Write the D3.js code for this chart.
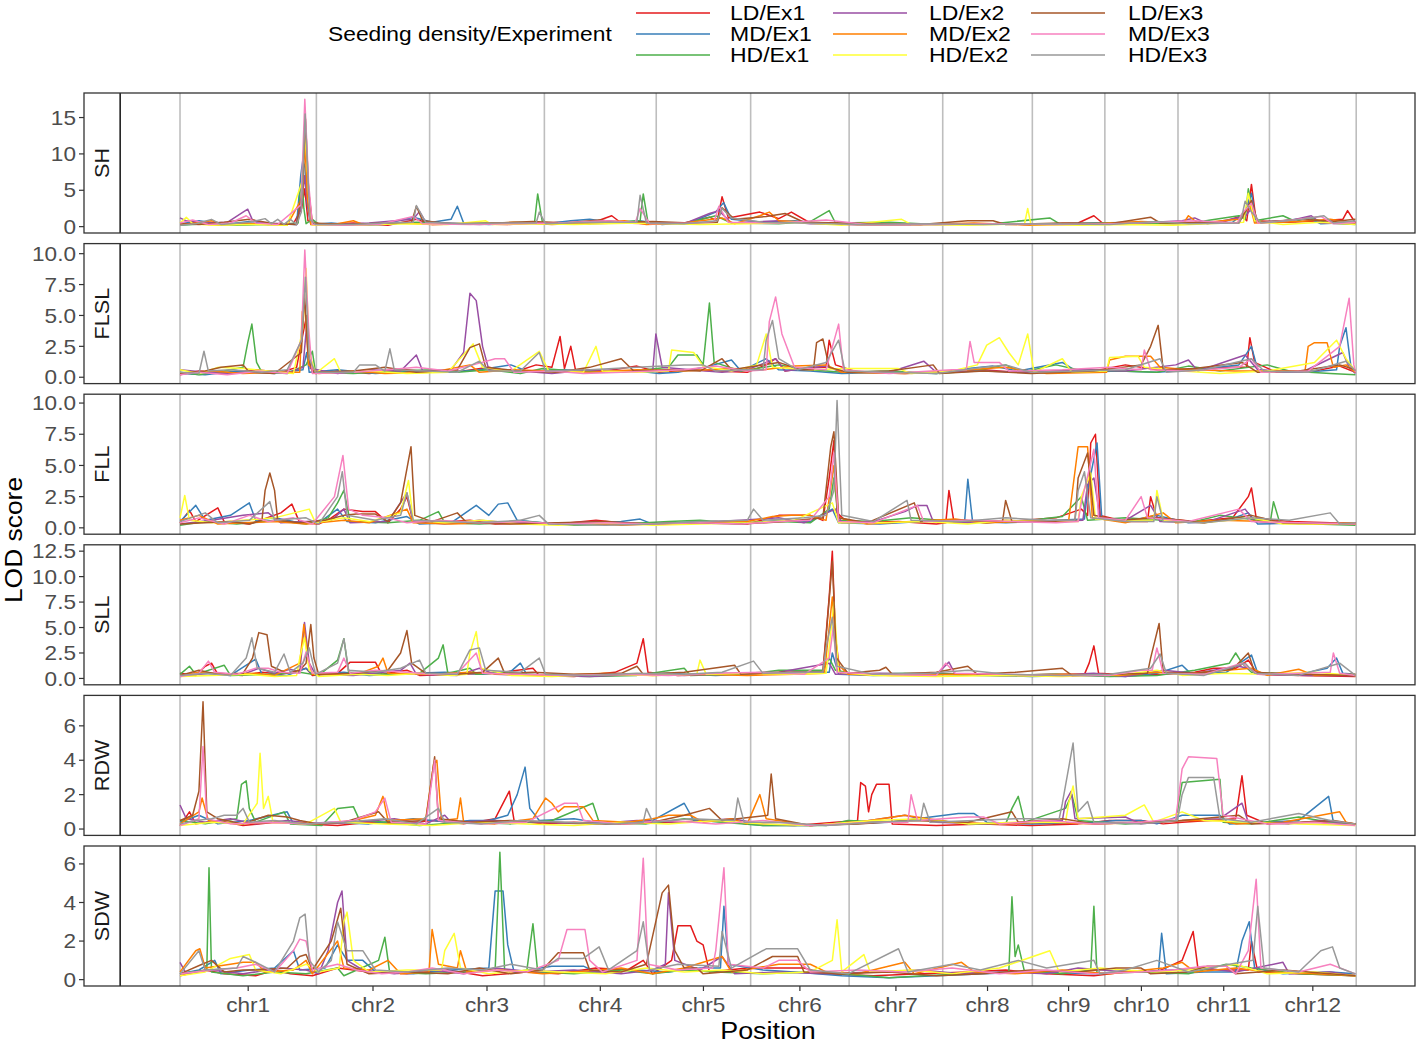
<!DOCTYPE html>
<html>
<head>
<meta charset="utf-8">
<script src="https://cdn.jsdelivr.net/npm/d3@7"></script>
<style>
  body { margin: 0; background: #fff; }
  svg { font-family: "Liberation Sans", Arial, sans-serif; }
</style>
</head>
<body>
<div id="chart"></div>
<script>
// chromosome layout (Mb)
const chrNames = ['chr1','chr2','chr3','chr4','chr5','chr6','chr7','chr8','chr9','chr10','chr11','chr12'];
const chrLengths = [43.27, 35.94, 36.41, 35.50, 29.96, 31.25, 29.70, 28.44, 23.01, 23.21, 29.02, 27.53];

const traits = ['SH', 'FLSL', 'FLL', 'SLL', 'RDW', 'SDW'];
const seriesNames = ['LD/Ex1','MD/Ex1','HD/Ex1','LD/Ex2','MD/Ex2','HD/Ex2','LD/Ex3','MD/Ex3','HD/Ex3'];
const seriesColors = ['#E41A1C','#377EB8','#4DAF4A','#984EA3','#FF7F00','#FFFF33','#A65628','#F781BF','#999999'];

const yTickValues = [[0,5,10,15],[0,2.5,5,7.5,10],[0,2.5,5,7.5,10],[0,2.5,5,7.5,10,12.5],[0,2,4,6],[0,2,4,6]];
const yTickLabels = [['0','5','10','15'],['0.0','2.5','5.0','7.5','10.0'],['0.0','2.5','5.0','7.5','10.0'],
                     ['0.0','2.5','5.0','7.5','10.0','12.5'],['0','2','4','6'],['0','2','4','6']];

// LOD traces: flat [position Mb, LOD, position, LOD, ...], one per series in seriesNames order
const lodSH = [
  [0,.3, 5,.6, 12,.2, 20,.5, 28,.3, 36,.4, 38.6,2.5, 39.6,5.2, 40.6,.8, 45,.3, 55,.5, 66,.2, 75,1.0, 80,.3, 92,.4, 104,.3, 114,.5, 122,.6, 130,.4, 137,1.5, 140,.5, 150,.4, 160,.5, 168,1.3, 170.5,.8, 172,4.1, 174,1.2, 184,2.0, 190,1.1, 194,2.0, 200,.5, 212,.3, 230,.3, 250,.4, 268,.3, 285,.5, 290,1.5, 293,.4, 305,.5, 318,.4, 330,.5, 337,1.5, 338.5,.8, 340,5.8, 341.5,.8, 352,.6, 362,.8, 369,1.0, 370.5,2.2, 373,.5],
  [0,.4, 6,.8, 14,.3, 22,.7, 30,.4, 37,.3, 38.3,7, 39,9.2, 39.6,8.2, 40.4,3, 41.5,.3, 48,.5, 56,.2, 65,.4, 74,1.3, 80,.6, 86,1.0, 88,2.8, 90,.5, 98,.3, 108,.5, 116,.4, 124,.8, 130,1.0, 138,.5, 146,.8, 153,.3, 162,.6, 170,2.0, 172.5,3.3, 175,1.0, 185,.6, 195,.8, 205,.4, 220,.3, 238,.3, 255,.4, 272,.3, 290,.5, 305,.6, 320,.4, 334,.6, 338,2.0, 340,4.6, 341.5,.6, 350,.8, 358,1.2, 362,.4, 373,.6],
  [0,.2, 8,.4, 18,.2, 30,.3, 37.5,.5, 38.2,5.5, 38.8,6.3, 39.3,2.5, 40,.4, 42,1.0, 44,.3, 60,.2, 75,.6, 90,.4, 100,.5, 112.5,.6, 113.5,4.5, 115,.6, 125,.4, 135,.6, 146,.8, 147,4.5, 148.5,.6, 160,.4, 170,1.5, 175,.5, 190,.4, 200,.7, 206,2.2, 208,.5, 225,.6, 240,.3, 258,.4, 276,1.2, 279,.4, 300,.5, 320,.4, 327,.9, 336,1.5, 338,1.0, 339,5.2, 341,.8, 350,1.5, 354,.7, 358,1.3, 364,.5, 373,.3],
  [0,1.2, 2,.8, 8,.5, 15,.6, 20,2.0, 21.5,2.4, 23,.9, 27,.5, 33,.4, 37,.3, 38.6,3.2, 39.5,7.0, 40.3,3.5, 41.5,.4, 50,.3, 60,.5, 74,1.0, 76,2.1, 78,.6, 95,.3, 110,.5, 130,.4, 148,.6, 160,.4, 168,1.8, 171,2.2, 175,.5, 190,.8, 200,.4, 215,.3, 240,.3, 265,.4, 285,.3, 300,.4, 318,.8, 322,1.2, 326,.4, 338,1.4, 340,2.5, 342,.6, 352,.8, 359,1.5, 362,.5, 373,.4],
  [0,.3, 5,.5, 10,.8, 14,.3, 24,.4, 34,.2, 38.8,4, 39.6,12, 40.4,4, 41.5,.3, 50,.4, 55,.8, 58,.3, 70,.5, 80,.3, 96,.4, 106,.6, 118,.3, 128,.5, 141,.8, 148,.3, 160,.5, 172,1.2, 176,.4, 184,1.5, 187,2.0, 190,.8, 200,.6, 215,.3, 235,.3, 252,.5, 270,.2, 290,.4, 305,.7, 318.5,.5, 320,1.5, 323,.5, 336,1.0, 339.5,3.0, 341,.5, 355,.7, 365,1.0, 373,.5],
  [0,.5, 2,1.3, 4,.4, 10,.2, 22,.3, 34,.2, 38.6,6, 39.7,13, 40.8,5, 42,.2, 55,.2, 70,.4, 85,.3, 97,.8, 99,.3, 114,.4, 125,.3, 145,.5, 165,.3, 180,.4, 195,.6, 210,.2, 229,1.0, 232,.3, 250,.2, 268,.4, 269,2.5, 270,.3, 285,.2, 300,.3, 315,.2, 337.5,.6, 339,4.6, 341,.8, 350,.3, 362,.6, 373,.3],
  [0,.4, 6,.3, 14,.6, 22,1.0, 30,.4, 37,.3, 38.8,5, 39.8,14.8, 40.8,5, 42,.5, 52,.3, 66,.5, 73.5,.6, 75,2.8, 77,.8, 86,.4, 100,.5, 112,.7, 122,.5, 133,.9, 140,.6, 150,.7, 162,.5, 170.5,.6, 172,2.6, 176,1.0, 186,1.4, 192,1.8, 198,.6, 210,.5, 222,.4, 235,.3, 250,.8, 258,.8, 262,.3, 280,.5, 295,.4, 308,1.3, 311,.5, 325,.6, 336,.5, 338,2.0, 340,3.6, 342,.6, 356,1.0, 366,.7, 373,1.0],
  [0,.5, 4,.9, 9,.3, 16,.5, 21,1.5, 24,.5, 31,.3, 38.4,3, 39.6,17.5, 40.8,6, 42,.3, 52,.2, 63,.3, 74,1.4, 77,.4, 92,.3, 105,.4, 120,.5, 135,.8, 144.5,.6, 146,2.5, 149,.4, 162,.5, 169.5,.7, 171,2.8, 174,.6, 190,.5, 205,.9, 218,.3, 240,.3, 260,.4, 278,.3, 296,.4, 310,.6, 322,.8, 335.5,.5, 337,1.8, 340,3.2, 342,.5, 353,.9, 362,1.4, 366,.4, 373,.6],
  [0,.2, 5,.4, 10,1.0, 13,.3, 22,.6, 27,1.1, 29,.4, 31,1.0, 33,.3, 35,1.0, 37,.3, 38.5,2, 39.7,15.5, 40.5,8, 41.2,1, 43,.3, 55,.3, 65,.5, 74,.6, 75,2.9, 78,.6, 90,.4, 102,.5, 113,.5, 114,2.0, 116,.4, 130,.6, 145,.6, 146,4.3, 148,.5, 160,.4, 170.5,.8, 172,2.5, 175,1.2, 185,.6, 198,.5, 215,.3, 236,.4, 255,.3, 275,.4, 295,.3, 310,.7, 320,.4, 336,.5, 337,1.5, 338,3.5, 340,2.0, 343,.5, 356,1.0, 363,1.5, 366,.5, 373,.8]
];

const lodFLSL = [
  [0,.2, 6,.5, 14,.3, 24,.6, 32,.4, 37,.8, 39,3.5, 40.2,5.0, 41,1.0, 43,.3, 50,.5, 60,.3, 72,.6, 80,.4, 90,.5, 98,.8, 106,.4, 113,1.0, 118,.8, 120.6,3.3, 122,.7, 124,2.5, 125.5,.6, 135,.5, 145,.9, 152,.4, 162,.6, 170,.5, 180,.4, 186,1.0, 189,1.5, 192,.5, 200,.8, 205,.8, 206,3.0, 208,1.0, 215,.4, 230,.3, 245,.4, 255,.6, 265,.4, 280,.5, 292,.6, 300,1.0, 310,.6, 320,.5, 332,.8, 338.5,.8, 339.5,3.2, 341,1.2, 348,.4, 360,.5, 368,.9, 373,.4],
  [0,.3, 8,.2, 18,.5, 30,.3, 39,.6, 40.2,2.0, 41,.4, 50,.6, 62,.3, 75,.5, 85,.4, 95,.6, 105,1.0, 110,.5, 122,.6, 135,.4, 145,.5, 152,.3, 158,.4, 168,.9, 175,1.4, 178,.5, 186,1.5, 190,.6, 200,.5, 210,.3, 225,.4, 240,.3, 250,.7, 258,.9, 266,.5, 280,1.2, 285,.4, 298,.5, 310,.4, 322,.6, 336,1.0, 340,2.5, 342,.6, 350,.4, 362,.5, 367,.6, 368,2.5, 370,4.0, 371.5,1.0, 373,.4],
  [0,.4, 6,.2, 14,.5, 20,.8, 21.5,2.8, 22.8,4.3, 24.3,1.2, 26,.4, 34,.3, 40,1.0, 42,2.1, 43,.4, 55,.3, 68,.5, 80,.6, 88,.4, 98,.6, 108,.3, 115,.7, 125,.5, 140,.4, 155,.8, 158,1.8, 164,1.8, 166,1.0, 168,6.0, 169.5,1.2, 178,.5, 190,1.0, 200,.6, 210,.4, 225,.5, 240,.3, 252,.5, 262,1.0, 267,.4, 278,1.0, 285,.6, 298,.5, 310,.4, 320,.9, 330,.5, 345,1.0, 352,.5, 365,.3, 373,.2],
  [0,.6, 8,.4, 15,.3, 25,.5, 35,.4, 39,.8, 40.3,4.5, 41.3,.7, 50,.3, 60,.6, 70,.5, 75,1.8, 77,.5, 86,.6, 90,2.0, 92,6.8, 94,6.2, 96,2.5, 98,.6, 108,.5, 118,.3, 130,.6, 145,.5, 150,.5, 151,3.5, 153,.8, 162,.6, 172,.4, 180,.6, 189,1.5, 192,.5, 205,.9, 210,.4, 225,.4, 236,1.3, 240,.4, 255,.5, 270,.4, 285,.6, 300,.5, 316,1.0, 320,1.4, 323,.5, 338,1.8, 342,.6, 356,.4, 369,2.0, 371,.8, 373,.3],
  [0,.3, 10,.5, 20,.3, 30,.4, 38,.4, 38.8,5.3, 39.6,5.8, 40.8,1.0, 44,.3, 55,.5, 65,.3, 80,.4, 92,1.0, 95,.4, 105,.6, 118,.5, 130,.4, 145,.6, 160,.5, 175,.7, 185,.6, 195,.9, 205,1.0, 210,.4, 230,.3, 250,.6, 262,.8, 275,.3, 294,.4, 295,1.4, 300,1.7, 308,1.7, 311,.8, 320,.6, 335,.5, 350,.5, 357,.5, 358,2.5, 360,2.8, 364,2.8, 366,.8, 370,1.0, 373,.4],
  [0,.6, 6,.3, 12,.8, 20,.7, 28,.5, 36,.3, 39,4, 40,8.8, 41,2, 43,.3, 49,1.5, 51,.4, 60,.5, 72,.3, 85,.4, 93,2.7, 96,.8, 105,.5, 114,2.1, 117,.5, 128,.4, 132,2.5, 134,.5, 145,.4, 155,.5, 156,2.2, 163,2.0, 166,.9, 175,.5, 183,1.0, 186,3.5, 188,.8, 200,.6, 212,.7, 220,.7, 228,.7, 232,.3, 245,.5, 253,1.0, 256,2.6, 260,3.2, 263,2.0, 266,1.0, 269,3.5, 271,.4, 280,1.5, 283,.4, 294,.5, 295,1.6, 304,1.7, 306,.8, 318,.5, 330,.3, 345,.5, 360,1.2, 367,3.0, 370,1.5, 373,.5],
  [0,.3, 8,.5, 13,.8, 20,1.0, 22,.4, 30,.3, 38.5,2, 39.5,6.7, 40.6,2, 42,.4, 55,.5, 65,.8, 75,.4, 88,.6, 92,2.4, 95,2.7, 97,.8, 108,.5, 120,.4, 130,.8, 140,1.5, 144,.5, 155,.6, 165,.5, 172,1.5, 175,.6, 190,1.2, 197,.6, 201,.6, 202,2.8, 204,3.1, 206,.8, 212,.4, 225,.5, 239,1.0, 241,.3, 255,.5, 270,.3, 290,.5, 305,1.0, 308,2.5, 310.4,4.2, 312,.6, 322,.7, 337,1.2, 342,.4, 355,.5, 368,1.0, 373,.6],
  [0,.2, 6,.4, 15,.2, 25,.5, 34,.3, 38.5,3, 39.6,10.3, 40.8,4, 42,.3, 55,.4, 66,.6, 75,.8, 85,.5, 93,1.0, 100,1.5, 103,1.5, 106,.4, 118,.5, 128,.3, 140,.4, 150,.5, 160,.6, 170,.9, 180,.5, 186,.6, 187,4.5, 189,6.5, 191,3.5, 195,.8, 205,.6, 209,4.3, 210.5,.6, 225,.3, 245,.6, 249.5,.6, 250.7,2.9, 252,1.2, 260,1.2, 263,.5, 280,.6, 295,.8, 305,.6, 306,2.2, 308,.6, 320,.5, 336,.8, 340,1.5, 343,.4, 358,.5, 368,2.5, 371,6.4, 372.5,1.0, 373,.4],
  [0,.4, 6,.3, 7.6,2.1, 9,.5, 16,.6, 26,.4, 34,.6, 38.6,3, 39.8,8.1, 41,1.5, 43,.4, 55,.4, 57,1.0, 62,1.0, 65,.5, 66.6,2.3, 68,.6, 78,.5, 88,.4, 95,1.3, 98,.5, 108,.5, 114,2.0, 116,.5, 130,.6, 145,.8, 160,1.0, 166,1.0, 170,.5, 178,.6, 185,.6, 186,3, 188,4.6, 190,1.5, 196,.6, 205,1.2, 209,3.0, 211,.5, 225,.4, 240,.3, 255,.8, 262,1.0, 270,.4, 285,.5, 300,.6, 311,1.5, 313,.4, 325,.6, 340,1.5, 344,.5, 358,.4, 370,1.3, 373,.5]
];

const lodFLL = [
  [0,.4, 3,1.4, 5,.5, 12,1.6, 14,.5, 22,.3, 32,1.2, 35.5,1.9, 38,.4, 44,.3, 48,.8, 52,1.5, 58,1.3, 62,1.3, 66,.4, 70,1.5, 72,2.5, 74,.5, 80,.4, 92,.6, 100,.3, 110,.4, 120,.3, 132,.6, 140,.4, 155,.3, 170,.5, 180,.3, 190,1.0, 200,1.0, 204,.6, 206,4.0, 207.5,7.0, 208.5,1.2, 212,.4, 228,.5, 240,.3, 243,.4, 244,3.0, 245.5,.6, 256,.4, 268,.6, 278,.8, 286,1.5, 288,1.0, 289,6.8, 290.5,7.5, 292,1.0, 300,.5, 307,.5, 308,2.5, 310,.8, 322,.5, 334,.8, 339,2.5, 340,3.2, 341.5,.8, 352,.5, 365,.4, 373,.3],
  [0,.5, 5,1.8, 8,.6, 16,1.0, 22,2.0, 24,.6, 30,.8, 36,.5, 44,.4, 50,1.5, 53,.5, 62,.4, 72,.9, 76,.3, 86,.4, 94,1.8, 98,1.0, 101,1.9, 104,2.0, 107,.6, 115,.4, 128,.3, 140,.5, 146,.7, 150,.3, 165,.5, 178,.3, 190,.6, 200,.5, 207,1.5, 209,.4, 222,.3, 235,.5, 249,.6, 250,3.9, 251.5,.5, 262,.4, 278,.6, 287,.7, 288,3, 291,6.8, 292.5,.8, 300,.5, 310,1.0, 320,.4, 332,.6, 339,1.2, 342,.3, 356,.4, 366,.3, 373,.4],
  [0,.2, 8,.5, 18,.3, 30,.6, 40,.3, 47,.8, 50,2.0, 52,3.0, 54,.5, 66,.4, 76,.6, 82,1.3, 84,.4, 95,.3, 110,.5, 125,.2, 140,.3, 155,.5, 165,.6, 175,.4, 190,.5, 200,.4, 206,1.5, 207.5,4.0, 209,.6, 220,.5, 232,.8, 246,.5, 256,.4, 270,.6, 280,.9, 286,2.5, 288,.6, 300,.8, 312,.6, 322,.5, 330,1.0, 342,.6, 346,.5, 347,2.1, 349,.4, 360,.3, 373,.2],
  [0,.3, 10,.6, 20,1.0, 28,1.2, 32,.4, 40,.5, 48,.6, 52,1.5, 54,.4, 66,.5, 72,2.8, 74,.5, 84,.3, 95,.6, 105,.4, 118,.3, 132,.5, 146,.3, 162,.4, 178,.6, 190,.8, 198,.4, 208,1.5, 210,.4, 220,.5, 230,1.3, 234,1.8, 237,1.8, 239,.5, 250,.4, 262,.6, 276,.5, 286.5,.6, 288,3.5, 290,4.0, 292,.8, 300,.6, 308,1.8, 311,.5, 325,.4, 338,1.5, 341,.5, 355,.3, 373,.4],
  [0,.6, 6,1.0, 12,.3, 20,.4, 30,.5, 40,.3, 52,.6, 60,.4, 72,1.5, 74,.4, 86,.3, 98,.4, 112,.3, 125,.4, 140,.2, 150,.3, 165,.4, 180,.5, 188,.9, 194,1.0, 200,1.0, 205,.6, 207.5,5.0, 209,.8, 218,.3, 232,.5, 246,.7, 255,.4, 268,.5, 282,.6, 285,6.5, 288,6.5, 289.5,.8, 300,.4, 312,1.2, 316,.4, 330,.6, 345,.5, 360,.3, 373,.4],
  [0,.8, 1.5,2.6, 3,.6, 10,.4, 20,.6, 30,.8, 41,1.5, 43,.4, 52,.8, 60,.5, 70,1.2, 72.5,3.8, 74,.6, 84,.4, 96,.6, 108,.3, 120,.2, 136,.4, 150,.2, 165,.3, 180,.4, 195,.6, 207,2.0, 209,.4, 222,.4, 236,.5, 250,.3, 262,.6, 274,.5, 285,.5, 286,2.5, 289,4.4, 290.5,.7, 300,.6, 309,.6, 310,3.0, 312,.6, 325,.4, 340,.8, 350,.3, 373,.3],
  [0,.3, 8,.4, 16,.5, 22,.3, 26,.6, 27,3.0, 28.5,4.4, 30,3.0, 31,.6, 38,.4, 46,.6, 52,1.0, 56,1.1, 62,1.1, 66,.5, 70,2.0, 73.3,6.5, 74.5,1.0, 80,.5, 88,1.2, 91,.4, 105,.3, 120,.4, 135,.5, 148,.3, 162,.4, 178,.3, 192,.5, 204,.8, 206.5,6.5, 207.5,7.7, 209,.8, 218,.4, 233,2.0, 235,.5, 248,.6, 261,.5, 262,2.2, 264,.5, 276,.5, 284,.6, 285,4.0, 288,6.0, 290,1.0, 298,.6, 310,.8, 325,.4, 340,1.0, 350,.4, 373,.3],
  [0,.4, 6,.8, 14,.3, 22,1.0, 28,.5, 36,.8, 42,.3, 49,2.5, 51.7,5.8, 53.5,1.5, 58,1.0, 66,.8, 72,.4, 82,.6, 95,.4, 108,.5, 120,.3, 135,.4, 150,.3, 165,.4, 178,.3, 190,.5, 200,.6, 206,2.5, 207.5,6.0, 209,.5, 220,.4, 234,1.8, 236,.5, 250,.6, 265,.5, 278,.4, 285,.5, 286,2.0, 290,6.3, 291.5,.8, 300,.6, 305,2.5, 307,.8, 320,.5, 336,1.5, 340,.5, 355,.4, 373,.3],
  [0,.5, 8,1.2, 12,.4, 22,.6, 28.5,2.1, 30,.6, 40,.8, 44,.3, 50,2.5, 51.5,4.5, 53,1.0, 62,.6, 70,1.0, 72,2.8, 74,.6, 84,.5, 94,.4, 108,.6, 114,1.0, 117,.3, 135,.2, 150,.3, 165,.5, 180,.6, 182,1.5, 185,.6, 198,.8, 205,1.0, 207.5,3.0, 208.5,10.2, 210,1.0, 220,.5, 230.7,2.2, 232,.6, 248,.5, 262,.8, 275,.6, 284,.6, 285,3.0, 287,4.5, 289,.8, 300,.5, 309,.5, 310,2.5, 312,.5, 325,.4, 340,.8, 352,.6, 365,1.2, 368,.3, 373,.4]
];

const lodSLL = [
  [0,.5, 5,.3, 8,1.2, 10,1.5, 12,.4, 20,.3, 26,.6, 32,.4, 38,.8, 40,1.0, 42,.3, 50,.5, 54,1.6, 62,1.6, 64,.4, 72,.8, 76,.3, 88,.4, 100,.5, 112,1.0, 114,.3, 125,.2, 138,.6, 145,1.5, 147,3.9, 148.5,.6, 158,.3, 170,.5, 180,.4, 195,.6, 204,.6, 206,8, 207,12.5, 208,4, 209.5,.5, 222,.4, 236,.5, 248,.4, 262,.3, 276,.4, 287,.4, 288.5,1.5, 290,3.2, 291.5,.5, 303,.3, 312,.4, 322,.6, 328,1.0, 335,1.0, 339,1.8, 342,.4, 356,.3, 373,.2],
  [0,.2, 8,.5, 16,.3, 24,1.9, 26,.4, 34,.3, 40,1.0, 42,.4, 52,.6, 60,.3, 74,.5, 84,.6, 96,.4, 105,.7, 108,1.5, 110,.4, 125,.3, 140,.4, 155,.5, 170,.3, 185,.5, 197,.6, 206,.6, 207,2.5, 209,.4, 220,.3, 240,.4, 254,.3, 270,.2, 285,.3, 300,.2, 310,.5, 318,1.3, 321,.4, 332,.6, 340,2.3, 342,.5, 355,.4, 364,1.0, 367,2.0, 369,.5, 373,.4],
  [0,.4, 3,1.2, 5,.4, 14,1.3, 16,.3, 28,.4, 38,.6, 44,.3, 50,1.8, 52,3.9, 53.5,.6, 66,.4, 76,.5, 82,2.0, 83.5,3.3, 85,.5, 92,1.0, 94,.4, 104,.6, 115,.3, 130,.2, 145,.3, 160,1.0, 162,.3, 175,.4, 185,.6, 190,.8, 200,.8, 204,.8, 206,2.0, 208,.8, 215,.4, 230,.5, 245,.4, 260,.3, 278,.4, 295,.2, 310,.3, 322,.8, 333,1.5, 335,2.5, 337,1.5, 340,.6, 356,.4, 373,.3],
  [0,.3, 10,.5, 20,.4, 25,1.0, 30,.5, 35,.9, 38,.6, 39.5,5.5, 41,1.5, 43,.4, 55,.3, 70,.8, 73,1.5, 75,.4, 88,.3, 95,1.0, 100,.4, 115,.3, 130,.2, 145,.4, 160,.3, 175,.5, 190,.6, 206,1.5, 208,.4, 222,.5, 240,.4, 244,1.6, 246,.4, 260,.3, 275,.3, 290,.5, 300,.2, 312,.8, 322,.5, 336,1.2, 340,.9, 343,.4, 358,.3, 373,.3],
  [0,.3, 6,.6, 14,.4, 24,.5, 30,.3, 38,1.5, 39.3,5.3, 40.5,2.0, 42,.4, 50,.4, 57,.5, 63,1.2, 64.4,2.0, 66,.5, 80,.4, 92,.6, 102,.4, 118,.3, 135,.5, 150,.3, 165,.4, 180,.3, 195,.4, 204.5,.5, 205,2.0, 207,8.0, 208.5,1.5, 212,.4, 226,.3, 250,.4, 268,.3, 282,.4, 298,.3, 310,.6, 318,.4, 332,.8, 340,1.0, 345,.3, 355,.9, 360,.3, 373,.4],
  [0,.2, 10,.3, 22,.4, 30,.2, 37,.3, 38,2.0, 39.5,4.0, 41,.8, 44,.2, 56,.4, 66,.3, 76,.5, 86,.3, 91,.4, 92,2.5, 94,4.6, 95.5,1.0, 105,.3, 118,.2, 135,.4, 150,.3, 164,.4, 165,1.8, 167,.4, 180,.5, 195,.4, 205,.5, 206,3.0, 207.5,7.5, 209,.6, 220,.3, 240,.2, 260,.3, 280,.2, 300,.4, 310,.8, 318,.3, 332,.5, 344,.4, 360,.6, 373,.3],
  [0,.3, 6,.8, 12,.4, 20,.5, 23,2.0, 25,4.5, 27.6,4.3, 29,1.2, 34,.5, 38,.8, 40,1.5, 41.5,5.3, 42.5,2.0, 44,.4, 56,.5, 66,.8, 70,2.5, 72,4.7, 73.5,1.5, 78,.5, 88,.4, 96,.6, 101,2.0, 103,.5, 112,.6, 125,.4, 140,.5, 145,1.2, 147,.4, 160,.6, 176,1.3, 178,.4, 190,.6, 204,.6, 205,4.0, 207,11.5, 208.3,2.0, 212,.5, 222,.8, 224,1.1, 226,.4, 240,.6, 250,1.2, 253,.4, 265,.6, 280,1.0, 283,.3, 298,.4, 307,.5, 308,2.0, 310.7,5.4, 312,.6, 322,.5, 334,.9, 339,2.5, 341,.6, 355,.4, 373,.3],
  [0,.2, 6,.5, 9,1.7, 11,.6, 18,.4, 24,1.0, 28,1.0, 32,.6, 38,.5, 40,2.6, 42,.5, 50,.6, 52,2.0, 54,.5, 62,.8, 72,.6, 80,.4, 88,.5, 94,2.5, 96,.5, 108,.4, 122,.3, 140,.4, 155,.3, 170,.5, 185,.6, 198,.4, 206,2.0, 207.3,5.0, 208.5,.6, 222,.4, 240,.3, 243,1.5, 246,.5, 262,.4, 278,.3, 295,.3, 305,.8, 308.5,.8, 310,3.0, 312,.5, 325,.4, 337,1.5, 342,.4, 356,.5, 365,.6, 366,2.5, 368,.5, 373,.3],
  [0,.3, 8,.5, 16,.3, 21,2.0, 22.8,4.0, 24.5,1.0, 30,.6, 33,2.4, 35,.6, 39,1.5, 41,3.0, 43,.4, 50,1.5, 52,3.9, 53.5,.8, 62,.6, 70,1.0, 76,1.8, 78,.5, 88,.4, 92,2.8, 95,3.0, 97,.8, 108,.6, 114,2.0, 116,.4, 130,.3, 145,.5, 160,.4, 172,.6, 182,1.7, 185,.5, 198,.6, 204,.6, 205,3.0, 207,6.0, 208.5,1.2, 220,.4, 238,.5, 250,.8, 262,.4, 280,.3, 295,.4, 308,1.0, 311,2.4, 313,.5, 325,.3, 338,1.5, 341,.5, 355,.3, 368,1.5, 373,.3]
];

const lodRDW = [
  [0,.2, 3,1.0, 5,.3, 12,.5, 20,.2, 30,.4, 40,.3, 50,.2, 60,.4, 70,.3, 80,.5, 90,.3, 100,.6, 104.5,2.2, 106,.5, 115,.3, 125,.4, 140,.3, 155,.4, 170,.5, 180,.3, 195,.2, 215,.5, 216,2.7, 217.5,2.5, 218.5,1.0, 219.5,2.0, 221,2.6, 225,2.6, 226,.3, 240,.2, 255,.3, 270,.2, 285,.3, 295,.5, 305,.5, 312,.3, 318,.4, 335,.6, 337,3.1, 338.5,.8, 345,.3, 360,.4, 373,.3],
  [0,.4, 6,.8, 12,.3, 22,.5, 34,1.0, 36,.3, 48,.4, 60,.3, 74,.6, 86,.4, 92,.5, 98,.5, 104,.8, 107,2.0, 109.5,3.6, 111,1.2, 114,.5, 125,.6, 135,.3, 150,.5, 160,1.5, 163,.5, 175,.4, 185,.2, 200,.2, 212,.3, 225,.4, 247,.9, 252,.9, 256,.4, 270,.3, 290,.4, 297,.5, 305,.5, 310,.3, 318,.8, 330,.8, 333,.3, 345,.4, 355,.5, 364.5,1.9, 366,.4, 373,.3],
  [0,.5, 8,.3, 18,.6, 19.5,2.6, 21,2.8, 22,1.2, 24,.4, 33,1.0, 35,.3, 45,.2, 50,1.2, 55,1.3, 57,.5, 66,.4, 76,.2, 90,.4, 105,.3, 118,.5, 131,1.5, 133,.4, 148,.3, 160,.6, 172,.4, 185,.2, 205,.2, 212,.5, 225,.4, 235,.6, 250,.3, 262,.3, 264,1.2, 266,1.9, 268,.4, 281,1.2, 283,2.0, 285,.5, 300,.3, 316,.5, 318,2.7, 330,2.9, 331,.4, 340,.3, 355,.7, 365,.4, 373,.3],
  [0,1.4, 2,.6, 8,.4, 16,.6, 24,.3, 34,.5, 44,.3, 56,.4, 68,.6, 78,.3, 84,.8, 86,.4, 100,.5, 115,.4, 130,.3, 145,.5, 160,.4, 175,.6, 185,.3, 200,.2, 215,.4, 230,.8, 240,.4, 256,.3, 270,.4, 280,.5, 281,1.6, 282.8,2.2, 284,.6, 300,.7, 305,.3, 318,.5, 330,.6, 337,1.5, 339,.4, 352,.3, 362,.5, 373,.3],
  [0,.3, 6,1.0, 7,1.8, 9,.5, 18,.3, 30,.4, 45,.3, 55,.5, 62,.8, 64.4,1.9, 66,.5, 78,.6, 80.5,3.8, 81.5,4.0, 83,.5, 88,.6, 89,1.8, 90,.4, 100,.3, 112,.6, 116,1.8, 118,1.5, 120,1.0, 122,1.3, 128,1.3, 131,.5, 142,.4, 150,.6, 155,.8, 162,.8, 166,.4, 175,.6, 180,.3, 184,2.0, 186,.6, 200,.2, 215,.4, 230,.8, 245,.4, 260,.3, 275,.4, 290,.3, 310,.4, 318,.5, 330,.5, 335,.3, 350,.4, 368,1.0, 370,.4, 373,.3],
  [0,.2, 10,.4, 20,.3, 24.5,1.5, 25.4,4.4, 26.5,1.2, 28,1.9, 29.5,.4, 40,.3, 49,1.2, 51,.4, 65,.3, 80,.2, 95,.4, 110,.3, 125,.2, 140,.4, 155,.3, 170,.5, 185,.3, 200,.2, 220,.5, 235,.6, 250,.3, 265,.4, 281,.4, 282,1.5, 283.4,2.5, 285,.6, 300,.8, 306,1.4, 309,.4, 318,1.0, 325,.5, 340,.4, 355,.3, 373,.2],
  [0,.5, 4,.8, 6,2.2, 7.3,7.4, 8.5,1.0, 12,.6, 20,.3, 28,.8, 34,.7, 38,.5, 44,.3, 52,.4, 63,1.0, 66,.4, 78,.5, 80.8,4.2, 82,.6, 92,.4, 105,.5, 120,.4, 135,.3, 150,.4, 160,.8, 168,1.2, 172,.5, 186.5,.8, 187.6,3.2, 189,.6, 200,.2, 215,.3, 232,.5, 250,.4, 264,1.0, 266,.4, 280,.6, 290,.3, 305,.4, 318,.5, 336,.8, 340,.3, 355,.4, 366,.5, 373,.3],
  [0,.2, 6,.6, 7.3,4.8, 8.5,.6, 16,.3, 28,.4, 40,.3, 55,.5, 62,1.0, 65,1.8, 67,.4, 78,.3, 80.8,4.0, 82,.5, 95,.3, 110,.4, 122,1.5, 126,1.5, 128,.5, 140,.3, 155,.5, 170,.3, 185,.5, 200,.2, 220,.4, 231,.4, 232,2.0, 234,.5, 250,.7, 255,.7, 260,.3, 275,.5, 290,.3, 305,.4, 316,.6, 318,3.5, 320,4.2, 329,4.1, 331,.8, 345,.3, 360,.4, 373,.2],
  [0,.3, 5,.5, 10,.6, 14,.8, 18,.8, 20,1.2, 22,.4, 30,.5, 40,.3, 52,.4, 65,.6, 75,.3, 82,1.2, 84,.4, 96,.3, 108,.5, 122,.4, 138,.3, 147,.4, 148,1.2, 150,.4, 162,.6, 176,.5, 177,1.8, 179,.4, 190,.4, 205,.2, 220,.4, 235,.5, 236,1.5, 238,.4, 252,.5, 265,.6, 279,.6, 280,1.5, 283.4,5.0, 285,1.0, 288,1.6, 290,.4, 305,.3, 316.5,.5, 318,2.0, 320,3.0, 328,3.0, 330,.6, 340,.4, 355,.9, 365,.5, 373,.3]
];

const lodSDW = [
  [0,.2, 8,.5, 14,.3, 24,.2, 30,.5, 35,.3, 42,.2, 50,.6, 60,.4, 72,.3, 85,.5, 96,.2, 110,.4, 120,.3, 132,.6, 142,.5, 147,1.0, 150,.3, 156,1.0, 158,2.8, 162,2.8, 164,2.0, 166,1.8, 168,.4, 180,.6, 190,.6, 198,.6, 205,.3, 220,.2, 235,.3, 250,.4, 262,.5, 275,.3, 290,.2, 300,.4, 310,.4, 318,1.0, 321.5,2.5, 323,.6, 330,.5, 339,.5, 340,2.0, 342,.4, 355,.3, 373,.2],
  [0,.3, 6,.5, 11,1.0, 13,.3, 22,.5, 30,.6, 36,1.5, 38,.5, 46,.6, 50,1.8, 53,1.0, 58,1.0, 62,.4, 74,.3, 86,.5, 98,.6, 100,4.6, 102.5,4.6, 104,1.8, 106,.4, 118,.7, 128,.7, 132,.4, 145,.5, 155,.4, 165,.6, 171.5,.6, 172.6,3.8, 174,.8, 185,.5, 195,.4, 210,.2, 225,.1, 240,.2, 255,.3, 270,.4, 290,.3, 300,.4, 310.5,.4, 311.5,2.4, 313,.3, 325,.4, 335,.4, 337,2.0, 339.3,3.0, 341,.6, 350,.3, 365,.4, 373,.3],
  [0,.3, 8.5,.5, 9.2,5.8, 10,.4, 20,.2, 30,.4, 40,.3, 50,.6, 52,.2, 63,1.0, 65,2.2, 66.5,.4, 78,.3, 90,.4, 100,.5, 101.5,6.6, 103,.5, 110,.4, 112,2.9, 113.5,.4, 125,.3, 140,.5, 150,.3, 160,.5, 170,.4, 185,.3, 200,.4, 210,.3, 225,.1, 236,.2, 250,.3, 263,.4, 264,4.3, 265,1.2, 266,1.8, 268,.4, 280,.3, 289,.5, 290,3.8, 291,.3, 305,.4, 320,.3, 332,.8, 340,.6, 355,.3, 373,.2],
  [0,.9, 2,.3, 10,.5, 20,.3, 32,.6, 40,.5, 44,.3, 47,1.5, 50,4.0, 51.4,4.6, 53,1.0, 58,.5, 68,.3, 80,.5, 90,.3, 100,.6, 112,.4, 125,.5, 140,.3, 150,.5, 154,.8, 155,4.5, 157,1.0, 165,.5, 172,1.2, 176,.3, 190,.4, 205,.3, 220,.4, 235,.5, 248,.3, 260,.4, 275,.3, 285,.6, 300,.4, 315,.5, 325,.6, 335,.4, 350,.9, 352,.3, 365,.4, 373,.2],
  [0,.4, 5,1.5, 6.3,1.6, 8,.6, 16,.8, 20,.9, 24,.9, 27,.4, 36,.5, 40,1.0, 42,.3, 50,2.0, 52,.6, 60,.5, 66,1.0, 70,.3, 79,.4, 80,2.6, 82,.8, 88,.6, 89,1.5, 91,.4, 102,.5, 115,.3, 125,.4, 140,.6, 150,.3, 160,.6, 172,1.2, 175,.4, 190,.8, 200,.8, 205,.4, 215,.3, 230,.9, 233,.3, 248,.9, 252,.4, 265,.3, 280,.5, 295,.3, 312,.6, 318,.9, 322,.4, 335,.6, 345,.4, 360,.3, 373,.2],
  [0,.2, 8,.4, 16,1.1, 22,1.3, 24,.5, 32,.3, 40,.8, 44,.4, 50.5,.6, 52,3.0, 53,3.5, 55,1.0, 60,.4, 72,.5, 83,.5, 84,1.5, 87,2.4, 89,.6, 98,.3, 110,.5, 120,.4, 135,.3, 148,.6, 160,.4, 172,.5, 185,.3, 200,.4, 207,1.0, 208.5,3.1, 210,.4, 217,1.3, 219,.4, 232,.5, 245,.3, 260,.6, 276,1.5, 279,.4, 292,.6, 300,.5, 310,.4, 320,.5, 335,.8, 345,.3, 360,.4, 373,.2],
  [0,.3, 7,.8, 10,1.0, 14,.4, 20,.5, 24,.5, 34,.6, 38,1.2, 40,1.3, 42,.5, 48,2.0, 51,3.7, 53,.8, 60,.3, 72,.4, 85,.3, 95,.6, 105,.3, 115,.5, 120,1.4, 128,1.4, 130,.5, 140,.4, 148,.8, 153,4.5, 155,4.9, 157,1.5, 160,.6, 164,.6, 166,.3, 180,.5, 188,1.2, 196,1.2, 198,.4, 210,.3, 225,.4, 240,.2, 255,.3, 270,.5, 285,.4, 297,.6, 305,.6, 308,.3, 320,.4, 326,.7, 332,.7, 335,.3, 350,.5, 365,.3, 373,.2],
  [0,.3, 10,.5, 18,.6, 24,.8, 30,.4, 36,1.5, 38,2.1, 40,2.0, 42,.5, 50,.8, 56,.5, 64,.3, 72,.4, 80,.6, 90,.3, 100,.5, 110,.4, 120,1.0, 122.8,2.6, 128.5,2.6, 130,1.0, 134,.4, 145,1.0, 147,6.3, 148.5,.8, 158,.5, 169,.6, 170,1.5, 172.6,5.8, 174,.8, 185,.6, 190,1.0, 196,1.0, 200,.4, 215,.5, 230,.4, 245,.6, 260,.3, 275,.5, 290,.3, 305,.4, 315,.5, 325,.7, 332,.7, 335,.3, 339,1.5, 341.5,5.2, 343,.6, 355,.4, 365,.8, 373,.3],
  [0,.3, 6,1.5, 8,.5, 18,.6, 20,1.2, 24,.9, 30,.4, 36,2.0, 38,3.2, 39.7,3.4, 41,1.0, 44,.4, 48,1.0, 50,3.0, 53,1.5, 58,1.5, 62,.5, 72,.4, 85,.6, 96,.5, 105,.8, 115,.5, 120,1.1, 128,1.1, 133,1.7, 136,.5, 145,1.5, 147,3.0, 149,.5, 158,.8, 171,.7, 172,2.5, 175,.6, 186,1.6, 196,1.6, 200,.5, 212,.3, 228,1.6, 231,.4, 245,.8, 254,.5, 266,1.0, 275,.6, 290,1.0, 292,.3, 300,.5, 310,1.0, 320,.4, 333,.8, 340.5,1.0, 342,3.8, 344,.6, 355,.4, 362,1.5, 365.7,1.7, 368,.6, 373,.3]
];

const traitData = [lodSH, lodFLSL, lodFLL, lodSLL, lodRDW, lodSDW];

// ---- layout
const W = 1418, H = 1044;
const panelLeft = 84, panelRight = 1415;
const panelTop0 = 93, panelStep = 150.6, panelH = 140;
const textStretch = 1.13;   // reference glyphs are slightly wide

const svg = d3.select('#chart').append('svg')
  .attr('width', W).attr('height', H);

// text helper: positioned by transform so the glyphs can be widened
function addText(parent, tx, ty, str, size, opts = {}) {
  const rot = opts.rotate ? ` rotate(${opts.rotate})` : '';
  return parent.append('text')
    .attr('transform', `translate(${tx},${ty})${rot} scale(${opts.sx || textStretch},1)`)
    .attr('text-anchor', opts.anchor || 'start')
    .attr('dy', opts.dy || null)
    .attr('font-size', size)
    .attr('fill', opts.fill || '#000')
    .text(str);
}

// chromosome boundaries and centres
const chrStarts = [];
let acc = 0;
chrLengths.forEach(l => { chrStarts.push(acc); acc += l; });
const boundaries = chrStarts.concat([acc]);
const centres = chrStarts.map((s, i) => s + chrLengths[i] / 2);

const x = d3.scaleLinear().domain([-30.47, 391.9]).range([panelLeft, panelRight]);

const toPoints = flat => {
  const pts = [];
  for (let i = 0; i < flat.length; i += 2) pts.push([flat[i], flat[i + 1]]);
  return pts;
};

traits.forEach((trait, ti) => {
  const top = panelTop0 + ti * panelStep;
  const series = traitData[ti].map(toPoints);
  const maxV = d3.max(series, s => d3.max(s, d => d[1]));
  const y = d3.scaleLinear()
    .domain([-0.05 * maxV, 1.05 * maxV])
    .range([top + panelH, top]);

  const g = svg.append('g');

  g.append('clipPath').attr('id', 'clip' + ti)
    .append('rect').attr('x', panelLeft).attr('y', top)
    .attr('width', panelRight - panelLeft).attr('height', panelH);

  // chromosome separators
  g.selectAll('.sep').data(boundaries).enter().append('line')
    .attr('x1', d => x(d)).attr('x2', d => x(d))
    .attr('y1', top).attr('y2', top + panelH)
    .attr('stroke', '#bebebe').attr('stroke-width', 1.6);

  // reference line left of the genome
  g.append('line')
    .attr('x1', x(-19)).attr('x2', x(-19))
    .attr('y1', top).attr('y2', top + panelH)
    .attr('stroke', '#000').attr('stroke-width', 1.4);

  const line = d3.line().x(d => x(d[0])).y(d => y(d[1]));
  g.append('g').attr('clip-path', `url(#clip${ti})`)
    .selectAll('path').data(series).enter().append('path')
    .attr('d', line)
    .attr('fill', 'none')
    .attr('stroke', (d, i) => seriesColors[i])
    .attr('stroke-width', 1.5)
    .attr('stroke-linejoin', 'round');

  // panel border
  g.append('rect')
    .attr('x', panelLeft).attr('y', top)
    .attr('width', panelRight - panelLeft).attr('height', panelH)
    .attr('fill', 'none').attr('stroke', '#333').attr('stroke-width', 1.3);

  // strip label
  addText(g, 109, top + panelH / 2, trait, 20, { rotate: -90, anchor: 'middle', fill: '#1a1a1a', sx: 1.08 });

  // y axis
  const ticks = yTickValues[ti];
  g.selectAll('.yt').data(ticks).enter().append('line')
    .attr('x1', panelLeft - 5).attr('x2', panelLeft)
    .attr('y1', d => y(d)).attr('y2', d => y(d))
    .attr('stroke', '#333').attr('stroke-width', 1.2);
  ticks.forEach((t, i) => {
    addText(g, panelLeft - 8, y(t), yTickLabels[ti][i], 20, { anchor: 'end', dy: '0.36em', fill: '#4d4d4d' });
  });

  if (ti === traits.length - 1) {
    const by = top + panelH;
    g.selectAll('.xt').data(centres).enter().append('line')
      .attr('x1', d => x(d)).attr('x2', d => x(d))
      .attr('y1', by).attr('y2', by + 5)
      .attr('stroke', '#333').attr('stroke-width', 1.2);
    centres.forEach((c, i) => {
      addText(g, x(c), by + 26, chrNames[i], 20, { anchor: 'middle', fill: '#4d4d4d' });
    });
  }
});

// axis titles
addText(svg, 768, 1039, 'Position', 24, { anchor: 'middle', sx: 1.12 });
addText(svg, 22, 540, 'LOD score', 24, { anchor: 'middle', rotate: -90, sx: 1.1 });

// legend
const legend = svg.append('g');
addText(legend, 328, 41, 'Seeding density/Experiment', 20, { sx: 1.14 });
const keyX = [636, 833, 1031];
const labelX = [730, 929, 1128];
const rowY = [13, 34, 55];
seriesNames.forEach((name, i) => {
  const c = Math.floor(i / 3), cy = rowY[i % 3];
  legend.append('line')
    .attr('x1', keyX[c]).attr('x2', keyX[c] + 74).attr('y1', cy).attr('y2', cy)
    .attr('stroke', seriesColors[i]).attr('stroke-width', 1.5);
  addText(legend, labelX[c], cy, name, 20, { dy: '0.36em', sx: 1.15 });
});
</script>
</body>
</html>
